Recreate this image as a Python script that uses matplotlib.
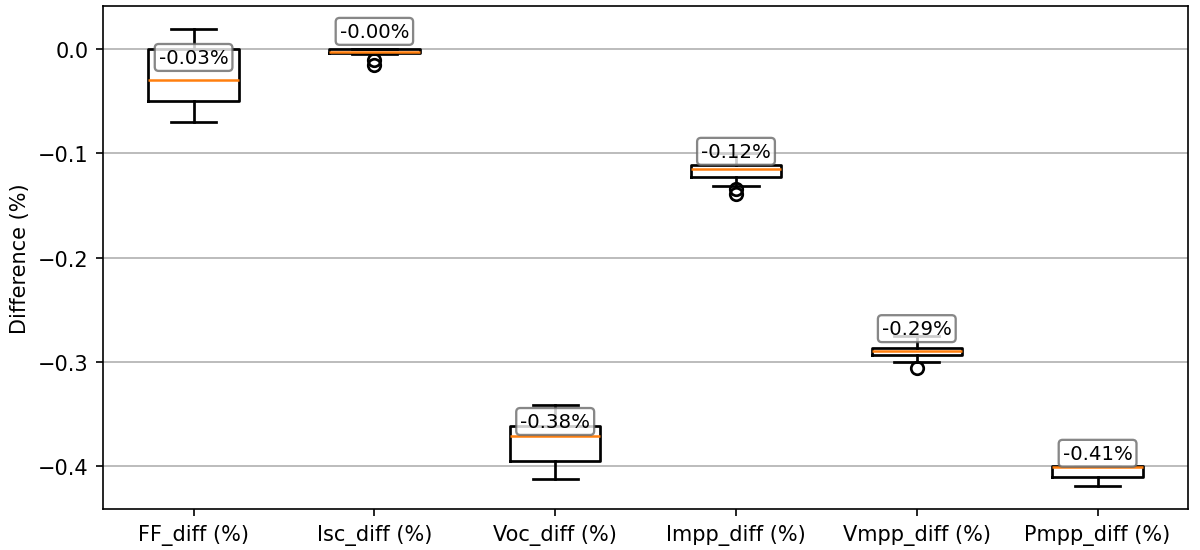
import numpy as np
import matplotlib.pyplot as plt

labels = ['FF_diff (%)', 'Isc_diff (%)', 'Voc_diff (%)', 'Impp_diff (%)', 'Vmpp_diff (%)', 'Pmpp_diff (%)']
medians = [-0.030, -0.0025, -0.371, -0.1154, -0.2894, -0.4005]
q1 = [-0.050, -0.004, -0.395, -0.123, -0.293, -0.4103]
q3 = [0.000, -0.0003, -0.3615, -0.1115, -0.2862, -0.400]
whis_lo = [-0.070, -0.005, -0.4125, -0.1314, -0.3003, -0.4192]
whis_hi = [0.0192, -0.0003, -0.3413, -0.100, -0.275, -0.400]
fliers = [[], [-0.010, -0.015], [], [-0.134, -0.139], [-0.3055], []]
means = [-0.028, -0.003, -0.377, -0.118, -0.288, -0.4075]

stats = []
for i in range(len(labels)):
    stats.append(dict(med=medians[i], q1=q1[i], q3=q3[i], whislo=whis_lo[i],
                      whishi=whis_hi[i], fliers=fliers[i], label=labels[i]))

fig, ax = plt.subplots(figsize=(8, 3.673), dpi=150)
fig.subplots_adjust(left=0.086, right=0.99, top=0.987, bottom=0.074)

lw = 1.3
ax.bxp(stats, showfliers=True,
       boxprops=dict(lw=lw), whiskerprops=dict(lw=lw), capprops=dict(lw=lw),
       medianprops=dict(color='C1', lw=1.2), flierprops=dict(markeredgewidth=lw))
ax.yaxis.grid(True)
ax.set_ylabel('Difference (%)')

# label each box with its mean, a bit above
for i, m in enumerate(means):
    ax.text(i + 1, m + 0.02, f'{m:.2f}%', ha='center', va='center', fontsize=9.5,
            bbox=dict(boxstyle='round,pad=0.2', fc='white', ec='dimgrey', lw=1.1, alpha=0.8))

plt.savefig('out.png')
